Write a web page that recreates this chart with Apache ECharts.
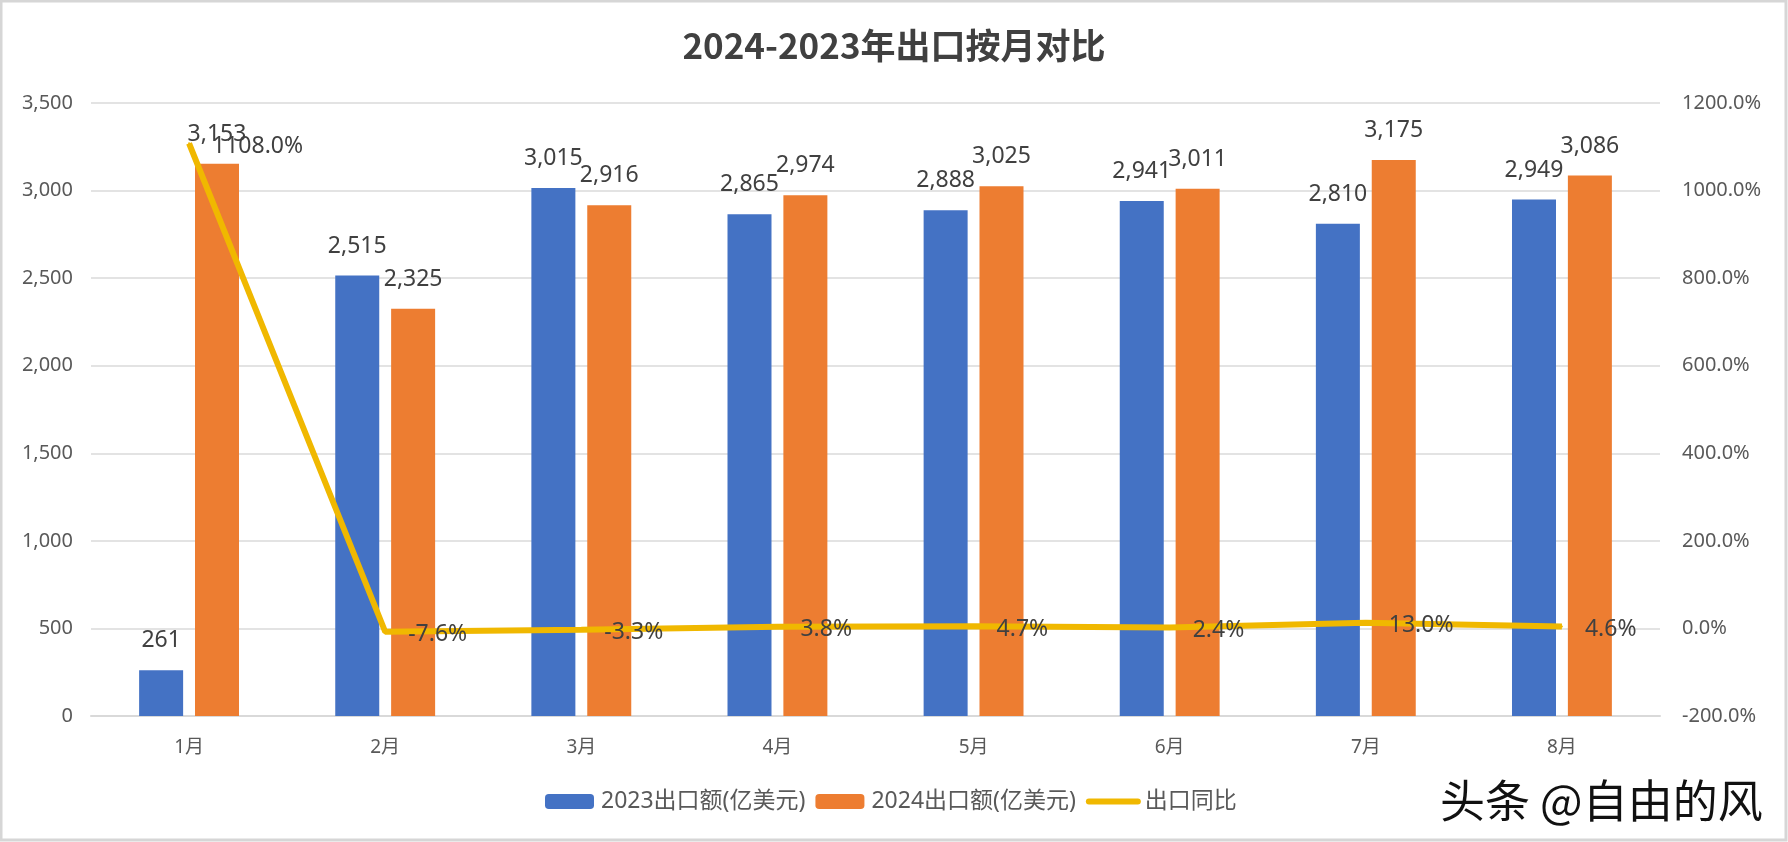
<!DOCTYPE html>
<html><head><meta charset="utf-8">
<script src="https://cdn.jsdelivr.net/npm/echarts@6/dist/echarts.min.js"></script>
<style>html,body{margin:0;padding:0;background:#fff}#c{width:1788px;height:842px}</style>
</head><body><div id="c"></div>
<script>
const months = ['1月','2月','3月','4月','5月','6月','7月','8月'];
const exports2023 = [261, 2515, 3015, 2865, 2888, 2941, 2810, 2949];
const exports2024 = [3153, 2325, 2916, 2974, 3025, 3011, 3175, 3086];
const yoyPct = [1108.0, -7.6, -3.3, 3.8, 4.7, 2.4, 13.0, 4.6];
const leftTicks = [0, 3500, 500];
const rightTicks = [-200, 1200, 200];

const FONT = '"Noto Sans", "Noto Sans CJK SC", sans-serif';
const LINE_COLOR = '#F0B800';
const chart = echarts.init(document.getElementById('c'));
const fmtNum = v => Number(v).toLocaleString('en-US');
chart.setOption({
  backgroundColor: '#fff',
  animation: false,
  title: {
    text: '2024-2023年出口按月对比', left: 'center', top: 23,
    textStyle: { fontFamily: '"Noto Sans CJK SC", sans-serif', fontSize: 35, fontWeight: 'bold', color: '#404040' }
  },
  legend: {
    bottom: 24, left: 540, itemWidth: 49, itemHeight: 15, itemGap: 10,
    textStyle: { fontFamily: FONT, fontSize: 23, color: '#595959', padding: [0, 0, 0, 2] },
    data: [
      { name: '2023出口额(亿美元)' },
      { name: '2024出口额(亿美元)' },
      { name: '出口同比', itemStyle: { opacity: 0 }, lineStyle: { width: 6, cap: 'round' } }
    ]
  },
  grid: { left: 91, right: 128, top: 103, bottom: 126, containLabel: false },
  xAxis: {
    type: 'category', data: months,
    axisLine: { lineStyle: { color: '#d9d9d9', width: 2 } },
    axisTick: { show: false },
    axisLabel: { fontFamily: FONT, fontSize: 19, color: '#595959', margin: 22 }
  },
  yAxis: [
    { type: 'value', min: leftTicks[0], max: leftTicks[1], interval: leftTicks[2],
      axisLine: { show: false }, axisTick: { show: false },
      splitLine: { lineStyle: { color: '#e3e3e3', width: 2 } },
      axisLabel: { fontFamily: FONT, fontSize: 20, color: '#595959', margin: 18, formatter: v => fmtNum(v) } },
    { type: 'value', min: rightTicks[0], max: rightTicks[1], interval: rightTicks[2],
      axisLine: { show: false }, axisTick: { show: false }, splitLine: { show: false },
      axisLabel: { fontFamily: FONT, fontSize: 20, color: '#595959', margin: 22, formatter: v => v.toFixed(1) + '%' } }
  ],
  series: [
    { name: '2023出口额(亿美元)', type: 'bar', data: exports2023, barWidth: 44, barGap: '27%',
      itemStyle: { color: '#4472C4' },
      label: { show: true, position: 'top', distance: 18, fontFamily: FONT, fontSize: 23, color: '#404040', formatter: p => fmtNum(p.value) } },
    { name: '2024出口额(亿美元)', type: 'bar', data: exports2024, barWidth: 44,
      itemStyle: { color: '#ED7D31' },
      label: { show: true, position: 'top', distance: 18, fontFamily: FONT, fontSize: 23, color: '#404040', formatter: p => fmtNum(p.value) } },
    { name: '出口同比', type: 'line', yAxisIndex: 1, data: yoyPct, symbol: 'circle', symbolSize: 2, showSymbol: true, z: 5,
      lineStyle: { color: LINE_COLOR, width: 6 }, itemStyle: { color: LINE_COLOR },
      label: { show: true, position: 'right', distance: 22, offset: [0, 3], fontFamily: FONT, fontSize: 23, color: '#404040', formatter: p => p.value.toFixed(1) + '%' } }
  ],
  graphic: [
    { type: 'rect', shape: { x: 1, y: 1, width: 1785, height: 839 }, style: { fill: 'none', stroke: '#d6d6d6', lineWidth: 3 }, silent: true },
    { type: 'text', left: 1439, top: 777, style: { text: '头条 @自由的风', font: '45px "Noto Sans CJK SC", sans-serif', fill: '#111', stroke: '#fff', lineWidth: 2 } }
  ]
});
</script></body></html>
